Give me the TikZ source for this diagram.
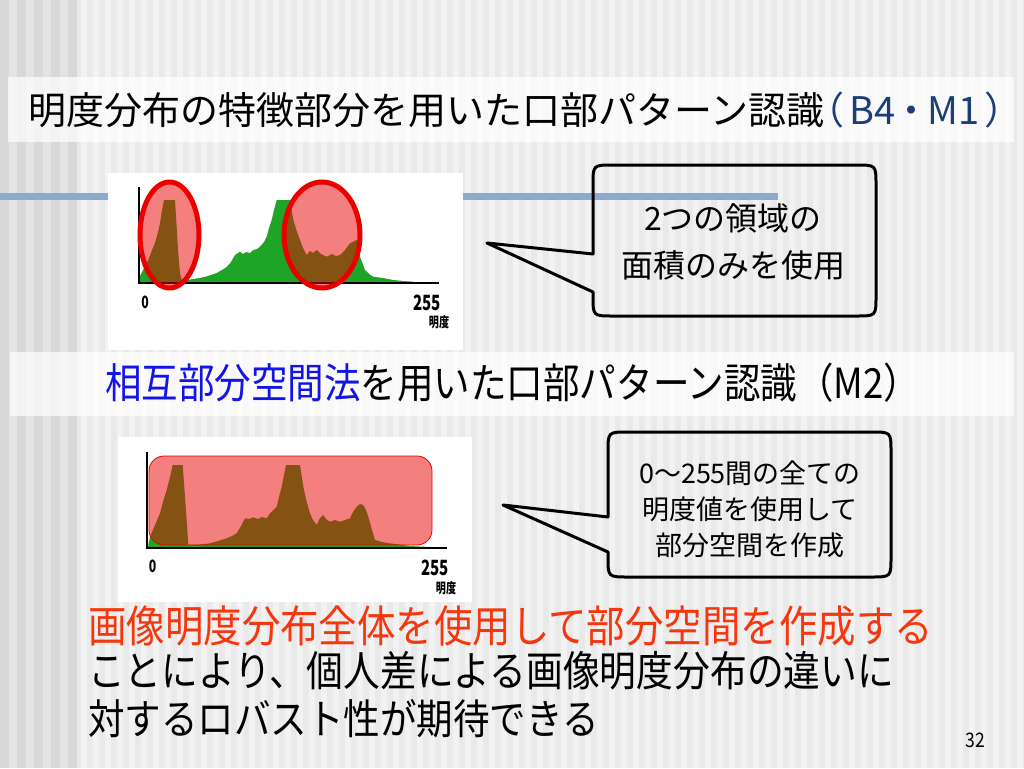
\documentclass[tikz,border=0pt]{standalone}
\usepackage{fontspec}
\setmainfont{Noto Sans CJK JP}
\newfontfamily\jpp[RawFeature=+palt]{Noto Sans CJK JP}
\newfontfamily\jpc[FakeStretch=0.88]{Noto Sans CJK JP}
\newfontfamily\jpn[FakeStretch=0.72]{Noto Sans CJK JP}
\definecolor{bgbase}{HTML}{F2F2F2}
\definecolor{bgstripe}{HTML}{E9E9E9}
\definecolor{leftbase}{HTML}{E4E4E4}
\definecolor{leftstripe}{HTML}{D8D8D8}
\definecolor{bluebar}{HTML}{8DA9CB}
\definecolor{histgreen}{RGB}{30,165,40}
\definecolor{ellred}{RGB}{235,0,0}
\definecolor{titleblue}{RGB}{28,62,120}
\definecolor{headblue}{RGB}{20,20,230}
\definecolor{redtext}{RGB}{245,55,15}
\tikzset{
  calloutline/.style={draw=black, line width=3pt, line join=round},
  axisline/.style={draw=black, line width=2.8pt},
  hist/.style={fill=histgreen},
  region/.style={fill=ellred, fill opacity=0.5},
  txt/.style={inner sep=0pt, text=black},
  band/.style={fill=white, fill opacity=0.7},
  lbl/.style={inner sep=0pt, text=black},
}
\begin{document}
\begin{tikzpicture}[x=1pt,y=-1pt]
\useasboundingbox (0,0) rectangle (1024,768);
% background
\fill[bgbase] (0,0) rectangle (1024,768);
\foreach \i in {0,...,79} { \fill[bgstripe] (75+\i*12,0) rectangle ++(6,768); }
\fill[leftbase] (0,0) rectangle (75,768);
\foreach \i in {0,...,4} { \fill[leftstripe] (\i*17,0) rectangle ++(8.5,768); }
% bands
\fill[band] (8,77) rectangle (1014,142);
\fill[band] (10,352) rectangle (1014,416);
% blue bar
\fill[bluebar] (0,193) rectangle (778,200);
% title
\node[txt, anchor=west] (title) at (28,110) {\fontsize{38}{40}\selectfont 明度分布の特徴部分を用いた口部パターン認識\textcolor{titleblue}{\jpp（\,B4\,・\,M1\,）}};
% top image
\fill[white] (108,173) rectangle (463,350);
\fill[hist] (140,283) -- (140,276) -- (144,268) -- (148.3,260) -- (152,250) -- (155,243) -- (158,232) -- (160,223) -- (162,210) -- (164,200) -- (175,200) -- (176.7,227) -- (178,250) -- (180,273) -- (181.7,280) -- (190,279.5) -- (200,278) -- (208,276) -- (216.7,273) -- (222,270) -- (226.7,267) -- (231,262) -- (235,255) -- (240,251.7) -- (243,254) -- (246,252) -- (250,253) -- (253.3,250) -- (257,249) -- (260,246.7) -- (264,242) -- (266.7,236.7) -- (269,228) -- (271.7,220) -- (274,210) -- (276.7,200) -- (290,200) -- (293.3,220) -- (297,232) -- (300,240) -- (303,248) -- (306.7,255) -- (310,251) -- (313,253) -- (316.7,250) -- (321,254) -- (326.7,256.7) -- (332,254) -- (336,256) -- (340,255) -- (345,250) -- (350,243.3) -- (356.7,240) -- (360,256.7) -- (365,270) -- (369,274) -- (373.3,276.7) -- (383,278) -- (393.3,280) -- (403,281) -- (413.3,281.7) -- (415,283) -- cycle;
\coordinate (ax1o) at (139,283);
\coordinate (ax1y) at (139,187);
\coordinate (ax1x) at (439,283);
\draw[axisline] (ax1y) -- (ax1o) -- (ax1x);
\draw[region, draw=ellred, line width=5pt] (169.5,235) ellipse [x radius=29.5pt, y radius=53pt];
\draw[region, draw=ellred, line width=5pt] (322,235) ellipse [x radius=38pt, y radius=53pt];
\node[lbl, font=\jpn\bfseries\fontsize{17}{18}\selectfont] (z1) at (145,302) {0};
\node[lbl, font=\jpn\bfseries\fontsize{21}{22}\selectfont] (m1) at (427,302.5) {255};
\node[lbl, font=\jpn\bfseries\fontsize{14}{15}\selectfont] (b1) at (439,322.5) {明度};
% callout 1
\draw[calloutline] (876,240) -- (876,185) .. controls (876,165) .. (856,165) -- (613,165) .. controls (593,165) .. (593,185) -- (593,254) -- (487,243) -- (593,292) -- (593,296) .. controls (593,316) .. (613,316) -- (856,316) .. controls (876,316) .. (876,296) -- cycle;
\node[txt, align=center, font=\fontsize{32}{47}\selectfont] (c1) at (733,241.5) {2つの領域の\\面積のみを使用};
% heading 2
\node[txt, anchor=west] (head2) at (105,383) {\jpc\fontsize{41.5}{44}\selectfont\textcolor{headblue}{相互部分空間法}を用いた口部パターン認識（M2）};
% bottom image
\fill[white] (118,437) rectangle (472,602);
\fill[hist] (148,547) -- (150,536.7) -- (155,525) -- (160,513.3) -- (163,502) -- (166.7,490) -- (170,477) -- (172.7,465) -- (182.7,465) -- (185,496.7) -- (187,525) -- (188.3,545) -- (200,544.5) -- (210,543.3) -- (218,541) -- (226.7,538.3) -- (232,536) -- (236.7,533.3) -- (241,526) -- (245,518.3) -- (249,519) -- (253.3,517.3) -- (258,519) -- (262,517) -- (266.7,518.3) -- (270,513.3) -- (276.7,506.7) -- (279,497) -- (281.7,486.7) -- (284,475) -- (286,465) -- (300,465) -- (303.3,486.7) -- (306,499) -- (310,513.3) -- (313,520) -- (316.7,525) -- (320,518) -- (323.3,515) -- (326,519) -- (330,521.7) -- (335,520) -- (340,521.7) -- (345,520) -- (350,518.3) -- (353,512) -- (356.7,506.7) -- (360,504) -- (363.3,505) -- (366,510) -- (368.3,516.7) -- (372,530) -- (375,540) -- (382,542) -- (390,543.3) -- (410,546) -- (430,547) -- cycle;
\coordinate (ax2o) at (147,548);
\coordinate (ax2y) at (147,452);
\coordinate (ax2x) at (447,548);
\draw[axisline] (ax2y) -- (ax2o) -- (ax2x);
\draw[region, draw=ellred, line width=0.8pt, rounded corners=15pt] (149,456) rectangle (432,545);
\node[lbl, font=\jpn\bfseries\fontsize{17}{18}\selectfont] (z2) at (152.5,566) {0};
\node[lbl, font=\jpn\bfseries\fontsize{21}{22}\selectfont] (m2) at (435,568) {255};
\node[lbl, font=\jpn\bfseries\fontsize{14}{15}\selectfont] (b2) at (446,588) {明度};
% callout 2
\draw[calloutline] (891,505) -- (891,452) .. controls (891,432) .. (871,432) -- (628,432) .. controls (608,432) .. (608,452) -- (608,517) -- (503,505) -- (608,552) -- (608,557) .. controls (608,577) .. (628,577) -- (871,577) .. controls (891,577) .. (891,557) -- cycle;
\node[txt, align=center, font=\fontsize{27}{36}\selectfont] (c2) at (750,509) {0〜255間の全ての\\明度値を使用して\\部分空間を作成};
% bottom text
\node[txt, anchor=west, text=redtext] (r1) at (88,626) {\jpc\fontsize{43.7}{46}\selectfont 画像明度分布全体を使用して部分空間を作成する};
\node[txt, anchor=west] (l2) at (88,671) {\jpc\fontsize{41.8}{44}\selectfont ことにより、個人差による画像明度分布の違いに};
\node[txt, anchor=west] (l3) at (88,719) {\jpc\fontsize{41.5}{44}\selectfont 対するロバスト性が期待できる};
\node[txt] (pg) at (975,740) {\jpc\fontsize{20}{22}\selectfont 32};
\end{tikzpicture}
\end{document}
